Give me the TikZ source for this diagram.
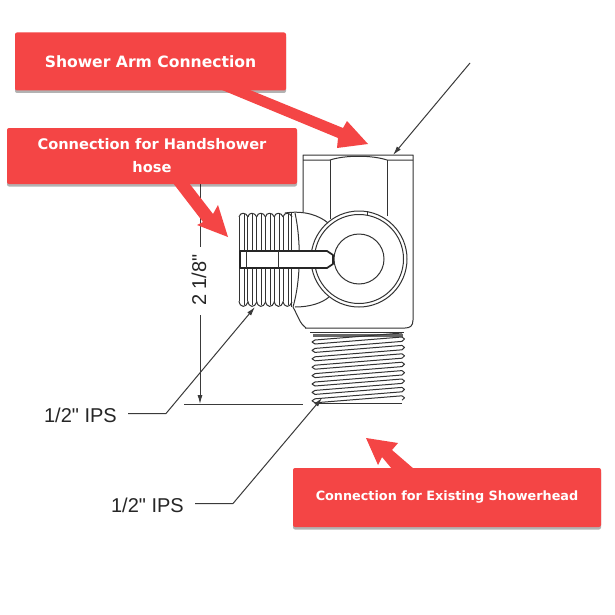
\documentclass[tikz,border=0pt]{standalone}
\usepackage{fontspec}
\usepackage{tikz}
\usetikzlibrary{arrows.meta,shadows}
\newfontfamily\dimfont{Liberation Sans}
\newfontfamily\calloutfont{DejaVu Sans}
\definecolor{calloutred}{HTML}{F44545}
\definecolor{inkgray}{HTML}{3A3A3A}
\tikzset{
	callout/.style={fill=calloutred,rounded corners=2pt,inner sep=0pt,align=center,text=white,
		drop shadow={shadow xshift=0pt,shadow yshift=-2.5pt,fill=black,opacity=.3}},
	redarrow/.style={fill=calloutred},
	leader/.style={draw=inkgray,line width=1pt,-{Latex[length=9pt,width=5pt]}},
	plainline/.style={draw=inkgray,line width=1pt},
	dimlabel/.style={font=\dimfont\fontsize{20}{22}\selectfont,text=black!85,inner sep=0pt},
	outline/.style={draw=black!80,line width=1pt},
	heavy/.style={draw=black!85,line width=1.7pt}
}
\begin{document}
\begin{tikzpicture}[x=1pt,y=-1pt,line join=round]
	\useasboundingbox[fill=white] (0,0) rectangle (615,615);
	% hex body
	\draw[outline] (303,212) -- (303,155) -- (413,155) -- (413,320) .. controls (413,326) and (410,328) .. (405,328) -- (305,328);
	\draw[outline] (303,160) -- (330,160) .. controls (345,155) and (372,155) .. (387,160) -- (413,160);
	\draw[outline] (330,160) -- (330,219) (387,160) -- (387,216);
	% ring and bore
	\coordinate (bore) at (359,259);
	\draw[outline] (bore) circle (48) (bore) circle (44.5) (bore) circle (25);
	\draw[outline] (367,211) -- (367,215);
	% elbow
	\draw[outline] (285,213) .. controls (305,210) and (320,216) .. (328,223);
	\draw[outline] (295,307) .. controls (310,307) and (322,303) .. (329,297);
	\draw[outline] (295,213) .. controls (301,240) and (301,280) .. (293,307) .. controls (298,316) and (300,324) .. (306,328);
	% side thread
	\foreach \k in {0,...,5} {
		\draw[outline] ({239+8.8*\k},217) .. controls ({240+8.8*\k},212) and ({246+8.8*\k},212) .. ({248+8.8*\k},217)
			({239+8.8*\k},301) .. controls ({240+8.8*\k},308) and ({246+8.8*\k},308) .. ({248+8.8*\k},302);
		\draw[outline] ({239+8.8*\k},217) -- ({239+8.8*\k},301);
		\draw[outline] ({244+8.8*\k},214) -- ({244+8.8*\k},305);
	}
	\draw[outline] (291,213) -- (291,307);
	% slot
	\draw[fill=white,heavy] (333,255) -- (333,264) -- (327,268) -- (240,268) -- (240,251) -- (327,251) -- cycle;
	\draw[outline] (246,251) -- (246,268) (278,251) -- (278,268);
	% lower thread
	\draw[outline] (310,332) -- (404,332);
	\draw[draw=black!60,line width=2.5pt] (313,335.5) -- (403,335.5);
	\foreach \k in {0,...,7} {
		\draw[outline] (315,{340+8.4*\k}) -- (402,{333+8.4*\k});
		\draw[outline] (315,{344+8.4*\k}) -- (402,{337+8.4*\k});
		\draw[outline] (315,{340+8.4*\k}) -- (312,{342+8.4*\k}) -- (315,{344+8.4*\k});
		\draw[outline] (402,{337+8.4*\k}) -- (404.5,{339+8.4*\k}) -- (402,{341.4+8.4*\k});
	}
	\draw[outline] (315,403) -- (402,403);
	% dimension
	\node[dimlabel,rotate=90] (dimtext) at (199,280) {2 1/8"};
	\coordinate (dimtop) at (200,184);
	\coordinate (dimbot) at (200,404);
	\coordinate (extleft) at (184,404);
	\coordinate (extright) at (303,404);
	\draw[plainline] (dimtop) -- (200,247);
	\draw[leader] (200,315) -- (dimbot);
	\draw[plainline] (extleft) -- (extright);
	% leaders
	\node[dimlabel,anchor=east] (sidelabel) at (117,415) {1/2" IPS};
	\node[dimlabel,anchor=east] (lowlabel) at (184,505) {1/2" IPS};
	\coordinate (sidetip) at (255,307);
	\coordinate (lowtip) at (322,398);
	\coordinate (armtop) at (470,63);
	\coordinate (armtip) at (393,155);
	\draw[leader] (128,413.5) -- (166,413.5) -- (sidetip);
	\draw[leader] (195,503.5) -- (233,503.5) -- (lowtip);
	\draw[leader] (armtop) -- (armtip);
	% red callouts
	\node[callout,minimum width=271pt,minimum height=58pt,font=\calloutfont\bfseries\fontsize{15.6}{23}\selectfont] (armbox) at (150.5,61.5) {Shower Arm Connection};
	\node[callout,minimum width=290pt,minimum height=56pt,font=\calloutfont\bfseries\fontsize{14.6}{23}\selectfont] (hosebox) at (152,156) {Connection for Handshower\\hose};
	\node[callout,minimum width=308pt,minimum height=59pt,font=\calloutfont\bfseries\fontsize{12.8}{15}\selectfont] (headbox) at (447,497.5) {Connection for Existing Showerhead};
	\coordinate (armpoint) at (368,144);
	\coordinate (hosepoint) at (228,237);
	\coordinate (headpoint) at (366,438);
	% red arrows
	\fill[redarrow] (222,90) -- (250,90) -- (343,128) -- (347,121) -- (armpoint) -- (337,148) -- (338,138) -- cycle;
	\fill[redarrow] (173,183) -- (189,183) -- (213,214) -- (218,205) -- (hosepoint) -- (197,225) -- (203,222) -- cycle;
	\fill[redarrow] (392,469) -- (414,469) -- (392,450) -- (398,443) -- (headpoint) -- (378,465) -- (382,457) -- cycle;
\end{tikzpicture}
\end{document}
